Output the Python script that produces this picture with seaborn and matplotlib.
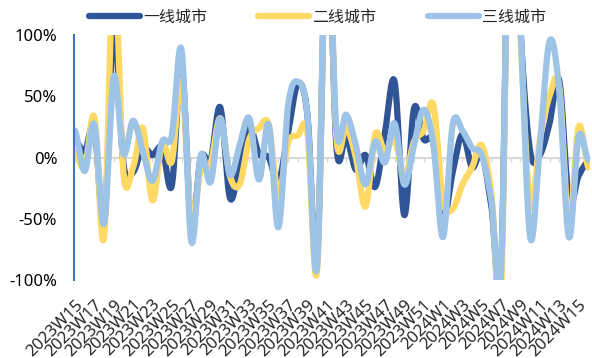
import numpy as np
import pandas as pd
import matplotlib
matplotlib.use("Agg")
import matplotlib.pyplot as plt
import seaborn as sns
from matplotlib.ticker import FuncFormatter

# weekly categories
weeks = [f"2023W{w}" for w in range(15, 53)] + [f"2024W{w}" for w in range(1, 17)]

# week-over-week change, % (values above 100 are cut off by the axis)
tier1 = [15, 5, 25, -55, 108, -5, -12, 8, 2, 8,
         -23, 75, -55, 0, -2, 41, -33, -5, 25, 3,
         0, -20, 20, 60, 35, -85, 200, 8, 17, -10,
         2, -24, 20, 62, -47, 40, 15, 12, -50, -12,
         19, -8, 3, -40, -92, 300, 105, 5, 2, 28,
         63, -35, -15, -3]
tier2 = [5, -8, 33, -65, 160, -12, -8, 24, -35, 12,
         -3, 63, -50, -10, -5, 32, -15, -22, 15, 24,
         27, -30, 12, 18, 20, -92, 200, 15, 25, 0,
         -40, 19, 5, 15, -16, 13, 22, 43, -35, -42,
         -22, -8, 10, -30, -110, 300, 100, -38, 15, 50,
         58, -55, 25, -8]
tier3 = [22, -11, 27, -54, 66, 3, 30, 5, -19, 13,
         18, 88, -68, 2, -20, 32, -14, 10, 32, -18,
         27, -57, 42, 62, 35, -89, 200, 22, 35, 10,
         -22, 13, -4, 28, -22, 10, 39, 11, -65, 27,
         22, 8, 2, -35, -92, 300, 110, -65, 10, 95,
         55, -65, 17, -2]

series_names = ["一线城市", "二线城市", "三线城市"]
series_colors = ["#2F5597", "#FFD966", "#9DC3E6"]


def smooth(vals, steps=24):
    """Catmull-Rom curve through the points, like Excel's smoothed line"""
    p = np.asarray(vals, dtype=float)
    m = np.empty_like(p)
    m[1:-1] = (p[2:] - p[:-2]) / 2
    m[0] = (p[1] - p[0]) / 2
    m[-1] = (p[-1] - p[-2]) / 2
    t = np.linspace(0, 1, steps, endpoint=False)
    h00 = 2 * t**3 - 3 * t**2 + 1
    h10 = t**3 - 2 * t**2 + t
    h01 = -2 * t**3 + 3 * t**2
    h11 = t**3 - t**2
    xs, ys = [], []
    for i in range(len(p) - 1):
        xs.append(i + t)
        ys.append(h00 * p[i] + h10 * m[i] + h01 * p[i + 1] + h11 * m[i + 1])
    xs.append([len(p) - 1])
    ys.append([p[-1]])
    return np.concatenate(xs), np.concatenate(ys)


sns.set_theme(style="white")
plt.rcParams["font.family"] = ["Noto Sans", "Noto Sans CJK SC", "DejaVu Sans"]
plt.rcParams["axes.unicode_minus"] = False

fig = plt.figure(figsize=(5.92, 3.58), dpi=100)
ax = fig.add_axes([0.125, 0.218, 0.872, 0.684])

for vals, name, color in zip([tier1, tier2, tier3], series_names, series_colors):
    xs, ys = smooth(vals)
    df = pd.DataFrame({"x": xs, "y": ys})
    sns.lineplot(data=df, x="x", y="y", ax=ax, color=color, linewidth=4.5,
                 label=name, sort=False, estimator=None,
                 solid_capstyle="round", solid_joinstyle="round")

ax.set_ylim(-100, 100)
ax.set_xlim(-0.1, len(weeks) - 1 + 0.2)
ax.set_xlabel("")
ax.set_ylabel("")

# y axis
ax.set_yticks([-100, -50, 0, 50, 100])
ax.yaxis.set_major_formatter(FuncFormatter(lambda v, _: f"{v:.0f}%"))
ax.tick_params(axis="y", direction="in", length=4, width=1.5, color="#4472C4",
               pad=12, labelsize=12, labelcolor="#000000")
for side in ["top", "right", "bottom"]:
    ax.spines[side].set_visible(False)
ax.spines["left"].set_color("#4472C4")
ax.spines["left"].set_linewidth(1.5)

# category labels at the bottom, every second week
ax.set_xticks(range(0, len(weeks), 2))
ax.set_xticklabels(weeks[::2], rotation=45, ha="right", va="top",
                   rotation_mode="anchor", fontsize=12)
ax.tick_params(axis="x", length=0, pad=12)

# the zero line with small category ticks
zero = ax.secondary_xaxis(0.5)
zero.set_xticks(range(len(weeks)))
zero.tick_params(axis="x", direction="in", length=3, width=1, color="#D9D9D9",
                 labeltop=False, labelbottom=False)
zero.spines["top"].set_color("#D9D9D9")
zero.spines["top"].set_linewidth(1.5)

handles, labels = ax.get_legend_handles_labels()
ax.get_legend().remove()
fig.legend(handles, labels, loc="center", bbox_to_anchor=(0.536, 0.95), ncol=3,
           frameon=False, fontsize=11.5, handlelength=3.2, handletextpad=0.2,
           columnspacing=3.2)

fig.savefig("out.png", dpi=100)
